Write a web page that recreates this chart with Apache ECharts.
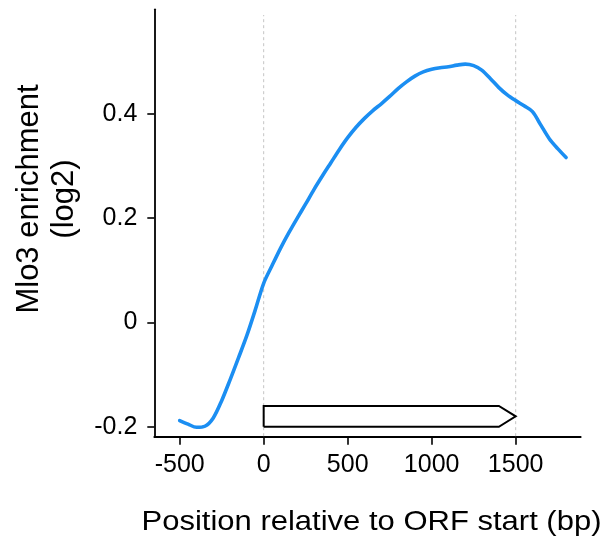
<!DOCTYPE html>
<html>
<head>
<meta charset="utf-8">
<script src="https://cdn.jsdelivr.net/npm/echarts@6/dist/echarts.min.js"></script>
<style>
html,body{margin:0;padding:0;background:#fff;}
#chart{width:608px;height:542px;}
</style>
</head>
<body>
<div id="chart"></div>
<script>
// Data
const positions = [-500,-450,-400,-350,-300,-250,-200,-150,-100,-50,0,50,100,150,200,250,300,350,400,450,500,550,600,650,700,750,800,850,900,950,1000,1050,1100,1150,1200,1250,1300,1350,1400,1450,1500,1550,1600,1650,1700,1750,1800];
const enrichment = [-0.188,-0.195,-0.201,-0.199,-0.183,-0.150,-0.110,-0.068,-0.025,0.024,0.075,0.109,0.142,0.172,0.200,0.227,0.255,0.281,0.306,0.331,0.354,0.374,0.391,0.406,0.419,0.433,0.448,0.461,0.472,0.480,0.485,0.488,0.490,0.493,0.495,0.492,0.483,0.467,0.450,0.436,0.425,0.415,0.404,0.378,0.352,0.333,0.316];
const xTickValues = [-500,0,500,1000,1500];
const yTickValues = [-0.2,0,0.2,0.4];
const guidePositions = [0,1500];
const orfStart = 0, orfShoulder = 1400, orfEnd = 1500;
const orfLow = -0.2, orfHigh = -0.16;
const xTitle = 'Position relative to ORF start (bp)';
const yTitle = 'Mlo3 enrichment\n(log2)';

const xMin = -651, xMax = 1887, yMin = -0.219, yMax = 0.6;
const guideTop = 0.589;

const chart = echarts.init(document.getElementById('chart'), null, {renderer:'canvas'});
const FONT = '"Liberation Sans", Arial, Helvetica, sans-serif';

const series = [];
guidePositions.forEach(function(g){
  series.push({
    type:'line', data:[[g, yMin+0.001],[g, guideTop]], symbol:'none', silent:true,
    lineStyle:{color:'#c4c4c4', width:1, type:[3,3]}, z:1
  });
});
series.push({
  type:'line',
  data: positions.map(function(p,i){return [p, enrichment[i]];}),
  symbol:'none', smooth:0.3, silent:true,
  lineStyle:{color:'#1b8ef2', width:3.6, cap:'round', join:'round'}, z:3
});
series.push({
  type:'line',
  data:[[orfStart,orfLow],[orfStart,orfHigh],[orfShoulder,orfHigh],[orfEnd,(orfLow+orfHigh)/2],[orfShoulder,orfLow],[orfStart,orfLow]],
  symbol:'none', silent:true,
  lineStyle:{color:'#000', width:2, join:'miter'}, z:4
});

chart.setOption({
  animation:false,
  backgroundColor:'#fff',
  grid:{left:154.3, right:27.3, top:9.3, bottom:105.3, containLabel:false},
  xAxis:{
    type:'value', min:xMin, max:xMax,
    axisLine:{show:true, onZero:false, lineStyle:{color:'#000', width:1.8}},
    axisTick:{show:true, length:8, inside:false, customValues:xTickValues, lineStyle:{color:'#000', width:1.6}},
    axisLabel:{show:true, margin:16, customValues:xTickValues, color:'#000', fontSize:25, fontFamily:FONT,
      formatter:function(v){return String(v);}},
    splitLine:{show:false}
  },
  yAxis:{
    type:'value', min:yMin, max:yMax,
    axisLine:{show:true, onZero:false, lineStyle:{color:'#000', width:1.8}},
    axisTick:{show:true, length:7, inside:false, customValues:yTickValues, lineStyle:{color:'#000', width:1.6}},
    axisLabel:{show:true, margin:17, customValues:yTickValues, color:'#000', fontSize:25, fontFamily:FONT,
      formatter:function(v){return String(Math.round(v*10)/10);}},
    splitLine:{show:false}
  },
  graphic:[
    {type:'text', x:371.5, y:522, scaleY:0.88, silent:true,
     style:{text:xTitle, fill:'#000', font:'31px '+FONT, align:'center', verticalAlign:'middle'}},
    {type:'text', x:47, y:199, rotation:Math.PI/2, silent:true,
     style:{text:yTitle, fill:'#000', font:'31px '+FONT, align:'center', verticalAlign:'middle', lineHeight:35}}
  ],
  series:series
});
</script>
</body>
</html>
